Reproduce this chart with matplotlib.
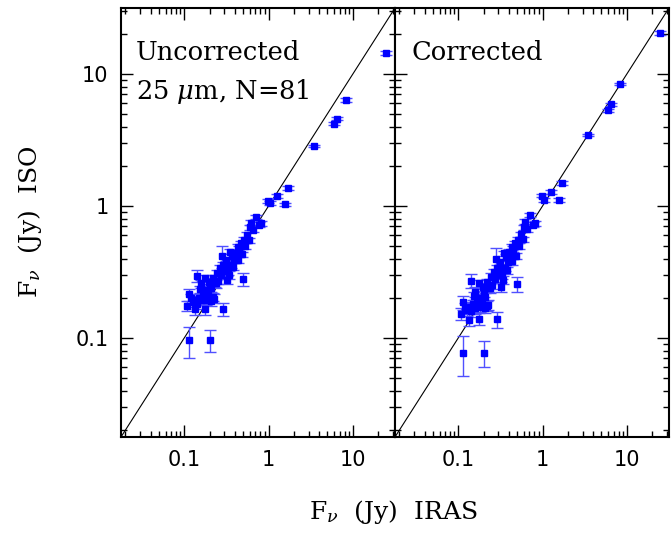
import numpy as np
import matplotlib
matplotlib.use('Agg')
import matplotlib.pyplot as plt
from matplotlib.ticker import FixedLocator, LogLocator, NullFormatter, FixedFormatter

plt.rcParams['mathtext.fontset'] = 'dejavuserif'

# IRAS 25 micron flux (Jy)
iras = [0.622, 0.600, 0.817, 0.510, 0.475, 0.433, 0.345, 0.396, 0.278, 0.315,
        0.385, 0.290, 0.378, 0.263, 0.242, 0.342, 0.221, 0.318, 0.497, 0.142,
        0.175, 0.199, 0.240, 0.160, 0.153, 0.210, 0.183, 0.113, 0.167, 0.221,
        0.139, 0.160, 0.183, 0.127, 0.225, 0.107, 0.133, 0.175, 0.288, 0.113,
        0.204, 0.71, 0.99, 1.03, 1.25, 1.58, 1.70, 3.5, 5.9, 6.5,
        8.2, 25.0,
        0.45, 0.40, 0.30, 0.27, 0.25, 0.20, 0.19, 0.15, 0.36, 0.56,
        0.65, 0.52, 0.43, 0.33, 0.14, 0.31, 0.48, 0.23, 0.17, 0.59,
        0.37, 0.21, 0.12, 0.44, 0.78]
# ISO flux, uncorrected (Jy)
iso_unc = [0.748, 0.690, 0.739, 0.553, 0.521, 0.492, 0.451, 0.438, 0.420, 0.390,
           0.390, 0.357, 0.347, 0.337, 0.309, 0.300, 0.283, 0.275, 0.280, 0.297,
           0.283, 0.267, 0.259, 0.259, 0.234, 0.238, 0.224, 0.214, 0.212, 0.206,
           0.194, 0.194, 0.194, 0.188, 0.199, 0.176, 0.165, 0.165, 0.166, 0.0966,
           0.0966, 0.83, 1.09, 1.06, 1.19, 1.03, 1.37, 2.85, 4.2, 4.6,
           6.35, 14.4,
           0.47, 0.41, 0.33, 0.30, 0.27, 0.24, 0.21, 0.20, 0.36, 0.60,
           0.66, 0.50, 0.44, 0.32, 0.18, 0.36, 0.43, 0.26, 0.23, 0.55,
           0.42, 0.19, 0.20, 0.39, 0.72]
# ISO flux, corrected (Jy)
iso_cor = [0.761, 0.689, 0.739, 0.553, 0.521, 0.492, 0.438, 0.451, 0.397, 0.379,
           0.379, 0.337, 0.327, 0.318, 0.291, 0.275, 0.267, 0.245, 0.256, 0.272,
           0.259, 0.245, 0.238, 0.224, 0.208, 0.206, 0.194, 0.186, 0.183, 0.176,
           0.171, 0.168, 0.173, 0.163, 0.178, 0.153, 0.138, 0.140, 0.139, 0.0774,
           0.0774, 0.855, 1.20, 1.11, 1.28, 1.11, 1.50, 3.45, 5.3, 5.9,
           8.4, 20.5,
           0.47, 0.40, 0.31, 0.28, 0.25, 0.22, 0.19, 0.18, 0.34, 0.61,
           0.67, 0.50, 0.43, 0.30, 0.16, 0.34, 0.42, 0.24, 0.20, 0.56,
           0.41, 0.17, 0.17, 0.38, 0.72]
# 1-sigma errors (Jy)
err_unc = [0.03, 0.03, 0.03, 0.025, 0.025, 0.025, 0.02, 0.02, 0.082, 0.02,
           0.02, 0.02, 0.02, 0.018, 0.018, 0.02, 0.015, 0.02, 0.032, 0.031,
           0.018, 0.018, 0.018, 0.018, 0.015, 0.015, 0.015, 0.023, 0.015, 0.015,
           0.015, 0.015, 0.015, 0.015, 0.015, 0.015, 0.015, 0.015, 0.019, 0.0255,
           0.018, 0.03, 0.04, 0.04, 0.04, 0.03, 0.05, 0.06, 0.12, 0.15,
           0.2, 0.5,
           0.025, 0.02, 0.018, 0.018, 0.015, 0.015, 0.015, 0.015, 0.02, 0.03,
           0.03, 0.025, 0.02, 0.018, 0.015, 0.02, 0.02, 0.015, 0.015, 0.025,
           0.02, 0.015, 0.015, 0.02, 0.03]
err_cor = list(err_unc)
err_cor[8] = 0.087
err_cor[40] = 0.0175
err_cor[51] = 0.6

tick_vals = [0.1, 1, 10]
tick_labels = ['0.1', '1', '10']
lim = (10 ** -1.75, 10 ** 1.5)

W, H = 672, 533
fig = plt.figure(figsize=(W / 100, H / 100), dpi=100)
axL = fig.add_axes([121 / W, 96 / H, 274 / W, 429 / H])
axR = fig.add_axes([395 / W, 96 / H, 274 / W, 429 / H])

for ax, yv, ev in ((axL, iso_unc, err_unc), (axR, iso_cor, err_cor)):
    ax.set_xscale('log')
    ax.set_yscale('log')
    ax.plot(lim, lim, color='black', lw=0.8, zorder=1)
    ax.errorbar(iras, yv, yerr=ev, fmt='s', ms=4.8, mfc='#0000ff', mec='#0000ff',
                ecolor='#5050ff', elinewidth=1.0, capsize=4, capthick=1.0, zorder=2)
    ax.set_xlim(lim)
    ax.set_ylim(lim)
    for axis in (ax.xaxis, ax.yaxis):
        axis.set_major_locator(FixedLocator(tick_vals))
        axis.set_major_formatter(FixedFormatter(tick_labels))
        axis.set_minor_locator(LogLocator(base=10, subs=np.arange(2, 10), numticks=20))
        axis.set_minor_formatter(NullFormatter())
    ax.tick_params(which='both', direction='in', top=True, right=True,
                   labelsize=15, color='black')
    ax.tick_params(which='major', length=8.5, width=1.0, pad=9)
    ax.tick_params(which='minor', length=4.5, width=1.0)
    for s in ax.spines.values():
        s.set_linewidth(1.5)

axR.tick_params(labelleft=False)

axL.text(0.055, 0.879, 'Uncorrected', transform=axL.transAxes,
         family='DejaVu Serif', fontsize=18.5, va='baseline', ha='left')
axL.text(0.055, 0.788, r'25 $\mu$m, N=81', transform=axL.transAxes,
         family='DejaVu Serif', fontsize=18.5, va='baseline', ha='left')
axR.text(0.062, 0.879, 'Corrected', transform=axR.transAxes,
         family='DejaVu Serif', fontsize=18.5, va='baseline', ha='left')

fig.text(393 / W, 1 - 512 / H, r'F$_\nu$  (Jy)  IRAS', ha='center', va='center',
         family='DejaVu Serif', fontsize=18)
fig.text(30 / W, 1 - 222 / H, r'F$_\nu$  (Jy)  ISO', ha='center', va='center',
         family='DejaVu Serif', fontsize=18, rotation=90)

fig.savefig('out.png', dpi=100)
